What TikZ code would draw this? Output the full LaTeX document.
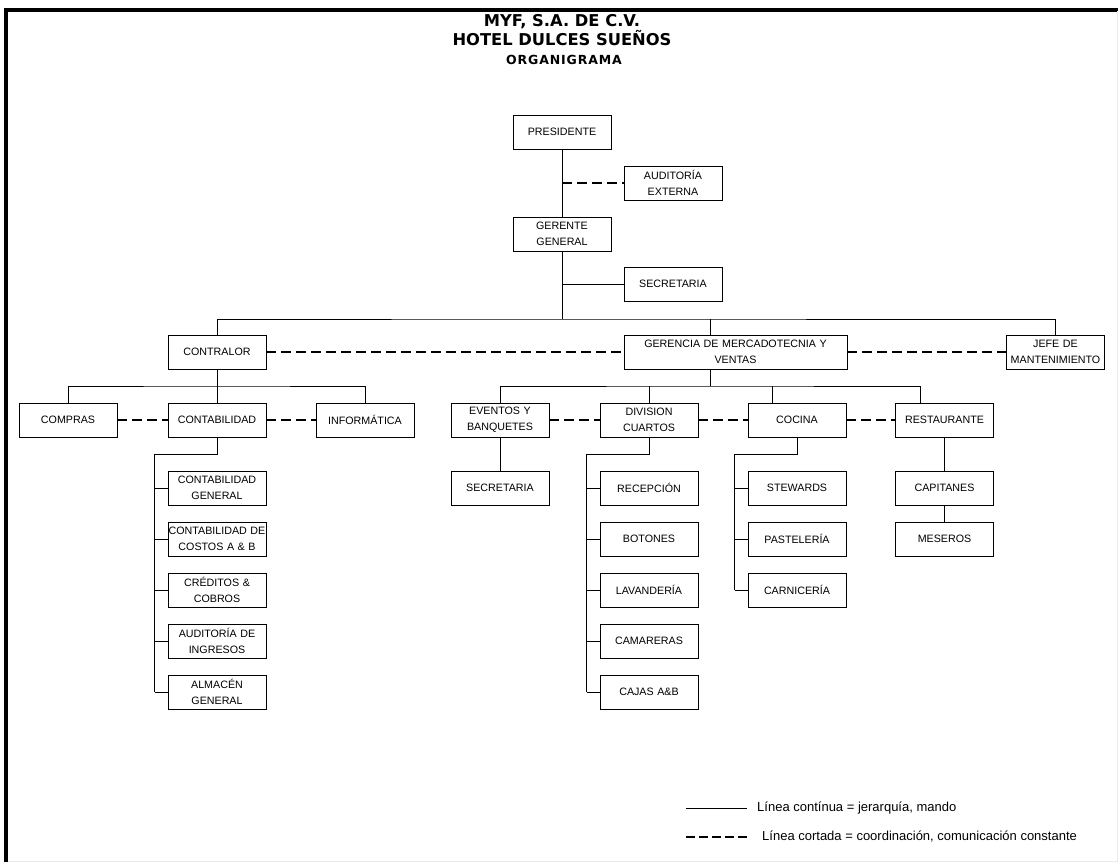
\documentclass[tikz,border=0pt]{standalone}
\usepackage{fontspec}
\setmainfont{Liberation Sans}
\newfontfamily\headfont{DejaVu Sans}
\newfontfamily\spreadfont{DejaVu Sans}[LetterSpace=7]
\usetikzlibrary{positioning}

\begin{document}
\begin{tikzpicture}[
x=1pt,
y=-1pt,
unit/.style={
  draw,
  line width=0.9pt,
  minimum width=98pt,
  minimum height=34pt,
  text width=98pt,
  inner sep=0pt,
  align=center,
  font=\fontsize{10.7}{16.5}\selectfont
  },
wideunit/.style={
  unit,
  minimum width=223pt,
  text width=215pt
  },
link/.style={line width=0.8pt},
coord/.style={line width=2pt, dash pattern=on 10pt off 5pt},
heading/.style={font=\headfont\bfseries\fontsize{16.3}{18}\selectfont, inner sep=0pt, anchor=base},
subheading/.style={font=\spreadfont\bfseries\fontsize{12.5}{14}\selectfont, inner sep=0pt, anchor=base},
legend/.style={anchor=west, inner sep=0pt, font=\fontsize{13}{15}\selectfont}
]
\useasboundingbox (0,0) rectangle (1118,862);
\draw[line width=4pt] (6,862) -- (6,9.5) -- (1118,9.5);
\draw[black!8, line width=1pt] (1117,11) -- (1117,861) -- (8,861);

% titles
\node[heading] (firma) at (562,27) {MYF, S.A. DE C.V.};
\node[heading] (hotel) at (562,45) {HOTEL DULCES SUEÑOS};
\node[subheading] (organ) at (564,64) {ORGANIGRAMA};

% top levels
\node[unit] (pres) at (562,132) {PRESIDENTE};
\node[unit] (audext) at (673,183) {AUDITORÍA\\EXTERNA};
\node[unit] (gerente) at (562,234) {GERENTE\\GENERAL};
\node[unit] (secr) at (673,284) {SECRETARIA};
\node[unit] (contr) at (217,352) {CONTRALOR};
\node[wideunit] (merc) at (735.5,352) {GERENCIA DE MERCADOTECNIA Y\\VENTAS};
\node[unit] (mant) at (1055.5,352) {JEFE DE\\MANTENIMIENTO};

% departments
\node[unit] (compras) at (68,420) {COMPRAS};
\node[unit] (contab) at (217,420) {CONTABILIDAD};
\node[unit] (inform) at (365,420) {INFORMÁTICA};
\node[unit] (eventos) at (500,420) {EVENTOS Y\\BANQUETES};
\node[unit] (cuartos) at (649,420) {DIVISION\\CUARTOS};
\node[unit] (cocina) at (797,420) {COCINA};
\node[unit] (rest) at (944.5,420) {RESTAURANTE};

% sections
\node[unit] (secev) at (500,488) {SECRETARIA};
\node[unit] (capit) at (944.5,488) {CAPITANES};
\node[unit] (meseros) at (944.5,539) {MESEROS};
\foreach \lbl [count=\mi] in {{CONTABILIDAD\\GENERAL},{CONTABILIDAD DE\\COSTOS A \& B},{CRÉDITOS \&\\COBROS},{AUDITORÍA DE\\INGRESOS},{ALMACÉN\\GENERAL}}
  \node[unit] (contab-\mi) at (217,437+51*\mi) {\lbl};
\foreach \lbl [count=\mi] in {RECEPCIÓN,BOTONES,LAVANDERÍA,CAMARERAS,CAJAS A\&B}
  \node[unit] (cuartos-\mi) at (649,437+51*\mi) {\lbl};
\foreach \lbl [count=\mi] in {STEWARDS,PASTELERÍA,CARNICERÍA}
  \node[unit] (cocina-\mi) at (797,437+51*\mi) {\lbl};

% hierarchy lines
\coordinate (busmain) at (562,319);
\path ([xshift=-25.5pt]merc.north) coordinate (mtop)
      ([xshift=-25.5pt]merc.south) coordinate (mbot)
      ([xshift=-25pt]cocina.north) coordinate (ctop)
      ([xshift=-24.5pt]rest.north) coordinate (rtop);
\coordinate (busmerc) at (710,386);
\draw[link] (pres) -- (gerente);
\draw[link] (gerente) -- (busmain);
\draw[link] (gerente.south|-secr) -- (secr);
\draw[link] (contr) |- (busmain) -| (mant);
\draw[link] (mtop|-busmain) -- (mtop);
\draw[link] (contr) -- (contab);
\draw[link] (compras) |- (contab.north|-busmerc) -| (inform);
\draw[link] (mbot) -- (busmerc);
\draw[link] (eventos) |- (busmerc) -| (rtop);
\draw[link] (cuartos) -- (cuartos|-busmerc);
\draw[link] (ctop|-busmerc) -- (ctop);
\draw[link] (eventos) -- (secev);
\draw[link] (rest) -- (capit);
\draw[link] (capit) -- (meseros);

% branch lines
\draw[link] (contab.south) -- ++(0,17) -| ([xshift=-13pt]contab-5.west);
\draw[link] (cuartos.south) -- ++(0,17) -| ([xshift=-13pt]cuartos-5.west);
\draw[link] (cocina.south) -- ++(0,17) -| ([xshift=-13pt]cocina-3.west);
\foreach \mi in {1,...,5}
{
  \draw[link] ([xshift=-13pt]contab-\mi.west) -- (contab-\mi);
  \draw[link] ([xshift=-13pt]cuartos-\mi.west) -- (cuartos-\mi);
}
\foreach \mi in {1,2,3}
  \draw[link] ([xshift=-13pt]cocina-\mi.west) -- (cocina-\mi);

% coordination lines
\draw[coord] (pres|-audext) -- (audext);
\draw[coord] (contr) -- (merc);
\draw[coord] (merc) -- (mant);
\draw[coord] (compras) -- (contab);
\draw[coord] (contab) -- (inform);
\draw[coord] (eventos) -- (cuartos);
\draw[coord] (cuartos) -- (cocina);
\draw[coord] (cocina) -- (rest);

% legend
\node[legend] (legsolid) at (757,808) {Línea contínua = jerarquía, mando};
\node[legend] (legdash) at (762,837) {Línea cortada = coordinación, comunicación constante};
\coordinate (ls) at (686,808);
\coordinate (ld) at (686,837);
\draw[link] (ls) -- ([xshift=-10pt]legsolid.west);
\draw[line width=2pt, dash pattern=on 9pt off 4pt] (ld) -- ([xshift=-14pt]legdash.west);
\end{tikzpicture}
\end{document}
